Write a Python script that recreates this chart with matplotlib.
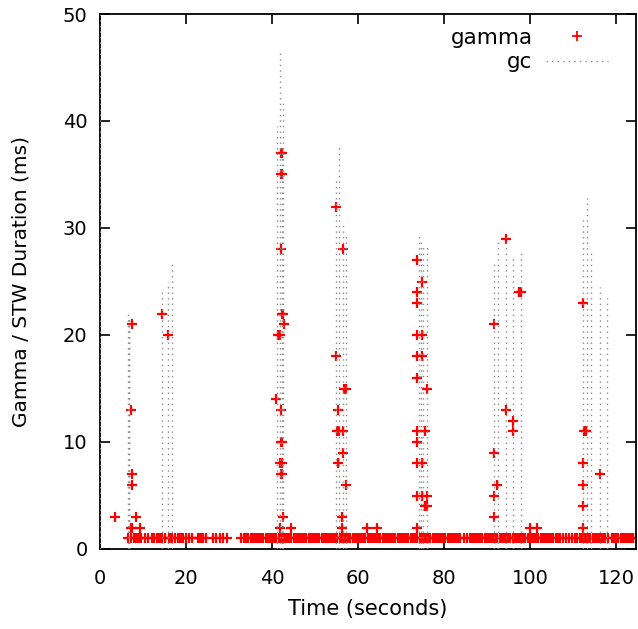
import matplotlib
matplotlib.use("Agg")
import matplotlib.pyplot as plt
from matplotlib.lines import Line2D
import numpy as np

# gamma pauses (time in s, duration in ms), values above 1 ms
gamma_t = [3.6, 7.4, 7.3, 7.4, 7.4, 7.2, 8.3, 7.4, 9.2,
           14.3, 15.9,
           42.1, 42.4, 42.0, 42.3, 42.0, 42.2, 42.5, 42.8, 41.3, 41.8, 40.9, 42.0,
           42.0, 42.4, 41.9, 42.2, 42.0, 42.4, 42.5, 41.9, 44.3,
           54.8, 56.4, 54.9, 56.7, 57.2, 55.4, 55.0, 55.6, 56.4, 56.4, 55.4, 57.2,
           56.2, 56.2, 62.0, 64.3,
           73.8, 74.8, 73.8, 73.8, 73.8, 74.8, 73.8, 74.8, 73.8, 76.1, 73.8, 75.6,
           73.8, 73.8, 74.8, 73.8, 74.8, 76.1, 75.5, 75.9, 73.8,
           94.4, 97.5, 97.8, 91.6, 94.4, 96.0, 96.0, 91.6, 92.2, 91.6, 91.6,
           100.0, 101.7,
           112.2, 112.6, 113.0, 112.2, 116.3, 112.2, 112.2, 112.2]
gamma_ms = [3, 21, 13, 7, 6, 2, 3, 2, 2,
            22, 20,
            37, 37, 35, 35, 28, 22, 22, 21, 20, 20, 14, 13,
            10, 10, 8, 8, 7, 7, 3, 2, 2,
            32, 28, 18, 15, 15, 13, 11, 11, 11, 9, 8, 6,
            3, 2, 2, 2,
            27, 25, 24, 23, 20, 20, 18, 18, 16, 15, 11, 11,
            10, 8, 8, 5, 5, 5, 4, 4, 2,
            29, 24, 24, 21, 13, 12, 11, 9, 6, 5, 3,
            2, 2,
            23, 11, 11, 8, 7, 6, 4, 2]

# times of the 1 ms gamma pauses
gamma_one_t = [6.6, 7.3, 8.0, 8.4, 8.8, 9.2, 9.6, 10.4, 11.2, 12.0, 12.6, 13.2, 13.6,
               14.0, 14.5, 15.2, 16.0, 16.4, 16.8, 17.4, 18.2, 18.6, 19.0, 19.4,
               20.0, 20.6, 21.4, 22.7, 23.0, 23.3, 23.6, 23.9, 24.7, 26.3, 27.0,
               27.8, 28.6, 29.5, 32.7,
               33.5, 34.0, 34.5, 35.0, 35.5, 36.0, 36.5, 37.0, 37.5, 38.0, 38.5,
               39.0, 39.5, 40.0, 40.5, 41.0, 41.5,
               42.0, 42.5, 43.0, 43.5,
               44.0, 44.5, 45.0, 45.5, 46.0, 46.5, 47.0, 47.5, 48.0, 48.5, 49.0,
               49.5, 50.0, 50.5, 51.0, 51.5, 52.0, 52.3,
               52.8, 53.2, 53.7, 54.2, 54.7, 55.2, 55.7, 56.2, 56.7, 57.2, 57.7,
               58.2, 58.7, 59.2, 59.7, 60.2, 60.7, 61.2, 61.7, 62.2, 62.7, 63.2,
               63.7, 64.2, 64.7, 65.2, 65.7, 66.2, 66.7, 67.2, 67.7, 68.2, 68.6,
               69.2, 69.7, 70.2, 70.7, 71.2, 71.7, 72.2,
               72.8, 73.3, 73.8, 74.3, 74.8, 75.3, 75.8, 76.3, 76.8, 77.3, 77.8,
               78.3, 78.8, 79.3, 79.8, 80.3, 80.8, 81.3, 81.8, 82.3, 82.8, 83.3,
               83.8, 84.6, 85.4,
               85.9, 86.4, 86.9, 87.4, 87.9, 88.4, 88.9, 89.4, 89.9, 90.4, 90.9,
               91.4, 91.9, 92.4, 92.9, 93.4, 93.9, 94.4, 94.9, 95.4, 95.9, 96.4,
               96.9, 97.4, 97.9, 98.4, 98.9, 99.4, 99.9, 100.4, 100.9, 101.4,
               101.9, 102.4, 102.9, 103.4, 103.9, 104.4, 104.9, 105.4, 105.9,
               106.5,
               107.0, 107.6, 108.3, 109.0, 109.8, 110.5,
               111.0, 111.5, 112.0, 112.5, 113.0, 113.5, 114.0, 114.5, 115.0,
               115.5, 116.0, 116.5, 117.0, 117.5, 118.0,
               119.0, 119.5, 120.0, 120.5, 121.0, 121.5, 122.0, 122.5, 123.0,
               123.5, 124.0, 124.5]

# stop-the-world gc pauses (time in s, duration in ms)
gc_t = [0.0,
        6.6, 6.7, 6.8,
        14.3, 15.9, 16.8,
        41.1, 41.9, 42.2, 42.5,
        54.9, 55.5, 56.4, 57.2,
        74.2, 74.7, 75.1, 76.0,
        91.6, 92.6, 94.4, 96.0, 97.9,
        112.3, 113.3, 114.2, 116.3, 117.9]
gc_ms = [60,
         22.2, 21.8, 21.5,
         24.2, 25.0, 26.7,
         39.5, 46.4, 37.5, 42.1,
         34.6, 37.7, 30.4, 29.5,
         29.5, 28.9, 28.2, 28.2,
         26.7, 28.9, 29.2, 27.2, 27.8,
         31.0, 32.8, 27.8, 24.5, 23.5]

plt.rcParams["font.family"] = ["DejaVu Sans"]
plt.rcParams["font.size"] = 14

fig = plt.figure(figsize=(6.38, 6.29), dpi=100)
ax = fig.add_axes([100 / 638, 1 - 549 / 629, 536 / 638, 535 / 629])

all_t = np.array(gamma_t + gamma_one_t)
all_ms = np.array(gamma_ms + [1] * len(gamma_one_t))
ax.plot(all_t, all_ms, linestyle="none", marker="+", color="red",
        markersize=7.5, markeredgewidth=1.6, zorder=2)

gc_color = "#8c8c8c"
ax.vlines(gc_t, 0, gc_ms, colors=gc_color, linewidth=1.0,
          linestyles=(0, (1, 3)), zorder=3)

ax.set_xlim(0, 124.6)
ax.set_ylim(0, 50)
ax.set_xticks(range(0, 121, 20))
ax.set_yticks(range(0, 51, 10))
ax.tick_params(direction="in", length=7, width=1.2, top=True, right=True,
               labelsize=14)
ax.tick_params(axis="x", pad=14.5)
ax.tick_params(axis="y", pad=9)
for s in ax.spines.values():
    s.set_linewidth(1.3)

ax.set_xlabel("Time (seconds)", fontsize=15, labelpad=8)
ax.set_ylabel("Gamma / STW Duration (ms)", fontsize=14.5, labelpad=23.5)

handles = [Line2D([], [], linestyle="none", marker="+", color="red",
                  markersize=7.5, markeredgewidth=1.3),
           Line2D([], [], color=gc_color, linewidth=1.0, linestyle=(0, (1, 3)))]
ax.legend(handles, ["gamma", "gc"], loc="upper right", markerfirst=False,
          frameon=False, fontsize=15.5, handlelength=2.9, handletextpad=0.6,
          labelspacing=0.2, borderpad=0, borderaxespad=0,
          bbox_to_anchor=(508 / 536, 1 - 14 / 535))

fig.savefig("out.png", dpi=100)
